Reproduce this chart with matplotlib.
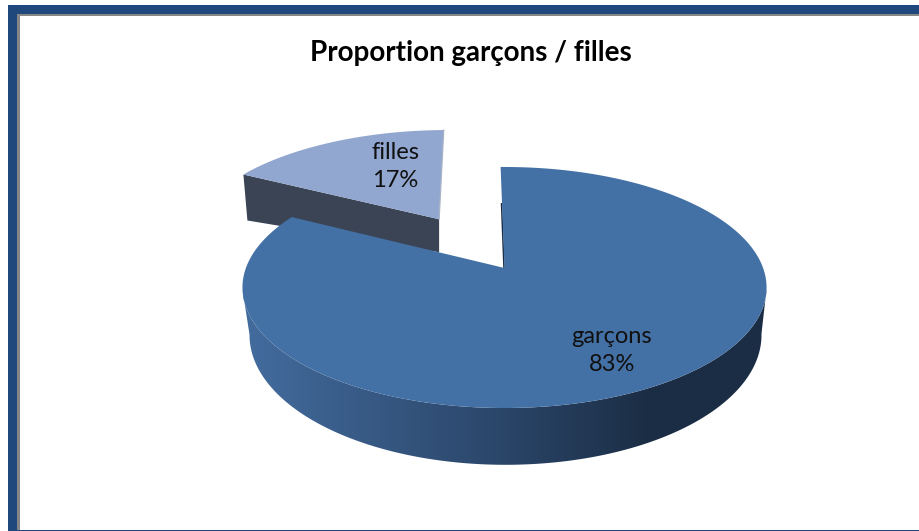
import numpy as np
import matplotlib
matplotlib.use("Agg")
import matplotlib.pyplot as plt
from matplotlib.colors import LinearSegmentedColormap

title = "Proportion garçons / filles"
categories = ["garçons", "filles"]
values = [83, 17]
explode = [0, 0.5]
top_colors = ["#4471A5", "#92A7CF"]
flat_side = "#3A4455"

plt.rcParams["font.family"] = ["Lato", "DejaVu Sans"]

fig = plt.figure(figsize=(9.19, 5.31), dpi=100)
ax = fig.add_axes([0, 0, 1, 1])
ax.axis("off")


# the disc seen in perspective: top face and bottom face
def top_face(u, v):
    d = 1 + 0.1618 * v
    return 504.5 + 258.6 * u / d, (268 - 74 * v) / d


def bottom_face(u, v):
    d = 1 + 0.1846 * v
    return 505.5 + 251.6 * u / d, (311 - 68 * v) / d


# frame
ax.fill_between([8, 17], 5, 531, color="#1F497D", lw=0, zorder=1)
ax.fill_between([8, 919], 5, 14, color="#1F497D", lw=0, zorder=1)
ax.fill_between([17, 20], 14, 531, color="#868686", lw=0, zorder=1)
ax.fill_between([17, 919], 14, 16, color="#868686", lw=0, zorder=1)
ax.fill_between([8, 919], 529.5, 531, color="#1F497D", lw=0, zorder=2)

# slice angles, clockwise from the top
edges = np.cumsum([0] + values) / sum(values) * 2 * np.pi - np.radians(1)
side_cmap = LinearSegmentedColormap.from_list(
    "side", [(0, "#436C9E"), (0.5, "#2A4568"), (0.78, "#1B2D44"), (1, "#1B2D44")])

# garçons: round side with the gradient, then the top
t = np.linspace(edges[0], edges[1], 400)
u = np.sin(t)
v = np.cos(t)
tx, ty = top_face(u, v)
front = v < -0.17  # where the outline of the disc turns
bx, by = bottom_face(u[front], v[front])
side = ax.fill(np.r_[tx[front], bx[::-1]], np.r_[ty[front], by[::-1]], color="none", lw=0)[0]
grad = ax.imshow(np.linspace(0, 1, 526).reshape(1, -1), cmap=side_cmap, aspect="auto",
                 extent=[243, 769, 470, 280], zorder=5)
grad.set_clip_path(side)
ex, ey = top_face(np.sin(edges[0]) * np.array([0, 0.6]), np.cos(edges[0]) * np.array([0, 0.6]))
ax.plot(ex - 0.5, ey, color="#1B2D44", lw=1.1, zorder=5.5)
ax0, ay0 = top_face(0, 0)
ax.fill(np.r_[ax0, tx], np.r_[ay0, ty], color=top_colors[0], lw=0, zorder=6)

# filles: pulled out of the disc, sits behind
t = np.linspace(edges[1], edges[2], 150)
mid = (edges[1] + edges[2]) / 2
ou = explode[1] * np.sin(mid)
ov = explode[1] * np.cos(mid)
tx, ty = top_face(ou + np.sin(t), ov + np.cos(t))
tx = tx - 2
ty = ty - 2
sx, sy = top_face(ou, ov)
sx = sx - 2
sy = sy - 2
ax.fill([sx, tx[0], tx[0] + 4, sx], [sy, ty[0], ty[0] + 46, sy + 33], color=flat_side, lw=0, zorder=3)
ax.fill(np.r_[sx, tx], np.r_[sy, ty], color=top_colors[1], lw=0, zorder=4)
ax.plot([sx, tx[-1]], [sy, ty[-1]], color="#A9B4C9", lw=0.9, zorder=4)

label_x = [612, 395]
label_y = [350.5, 166.5]
for name, val, lx, ly in zip(categories, values, label_x, label_y):
    ax.text(lx, ly, f"{name}\n{val}%", ha="center", va="center", fontsize=17,
            color="#101010", linespacing=1.36, zorder=8)

ax.text(470.5, 53, title, ha="center", va="center", fontsize=20, fontweight="bold",
        color="black", zorder=8)

ax.set_xlim(0, 919)
ax.set_ylim(531, 0)
fig.savefig("out.png", dpi=100, facecolor="white")
